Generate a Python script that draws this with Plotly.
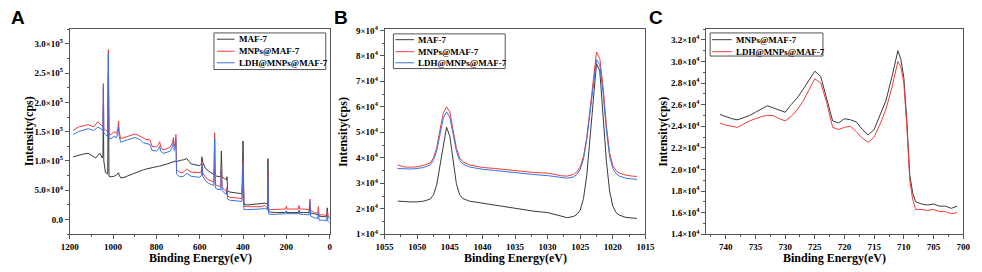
import plotly.graph_objects as go

# ---------------- Panel A: survey spectra (intensity in units of 1e5 cps) ----------------
energy_A = [1185, 1160, 1135, 1115, 1090, 1080, 1070, 1060, 1050, 1047,
            1045, 1043, 1035, 1025, 1022, 1019, 1010, 995, 985, 978,
            975, 972, 965, 950, 930, 900, 890, 875, 860, 850,
            830, 820, 800, 790, 785, 780, 770, 750, 735, 725,
            721, 718, 712, 710, 707, 700, 690, 675, 660, 640,
            620, 600, 593, 590, 586, 575, 560, 545, 535, 531,
            528, 520, 510, 503, 500, 497, 485, 477, 474, 471,
            460, 440, 420, 405, 400, 396, 380, 350, 320, 300,
            290, 287, 285, 282, 275, 250, 210, 203, 200, 197,
            170, 145, 141, 138, 120, 95, 91, 88, 70, 55,
            52, 49, 30, 15, 11, 8, 3, 0]
maf7_A = [1.07, 1.10, 1.12, 1.13, 1.07, 1.05, 1.10, 1.13, 1.05, 1.10,
          1.90, 1.00, 0.80, 0.78, 2.50, 0.74, 0.73, 0.74, 0.76, 0.78,
          0.80, 0.76, 0.71, 0.72, 0.75, 0.80, 0.81, 0.83, 0.85, 0.86,
          0.88, 0.89, 0.90, 0.91, 0.91, 0.92, 0.93, 0.95, 0.97, 0.98,
          0.99, 0.99, 0.99, 1.00, 0.99, 1.00, 1.01, 1.02, 1.04, 0.95,
          0.93, 0.92, 0.95, 1.07, 0.98, 0.88, 0.83, 0.80, 0.77, 0.85,
          0.75, 0.74, 0.73, 0.73, 1.17, 0.72, 0.70, 0.68, 0.73, 0.48,
          0.47, 0.46, 0.45, 0.44, 1.34, 0.26, 0.25, 0.26, 0.27, 0.28,
          0.27, 0.25, 1.04, 0.14, 0.13, 0.12, 0.12, 0.12, 0.15, 0.12,
          0.12, 0.12, 0.16, 0.12, 0.12, 0.12, 0.25, 0.11, 0.10, 0.08,
          0.10, 0.06, 0.05, 0.05, 0.20, 0.05, 0.03, 0.02]
mnps_A = [1.52, 1.58, 1.60, 1.62, 1.58, 1.63, 1.67, 1.63, 1.60, 1.58,
          2.32, 1.55, 1.53, 1.50, 2.90, 1.45, 1.45, 1.50, 1.47, 1.55,
          1.68, 1.50, 1.38, 1.40, 1.42, 1.46, 1.45, 1.42, 1.38, 1.37,
          1.36, 1.25, 1.24, 1.28, 1.33, 1.24, 1.19, 1.21, 1.24, 1.32,
          1.40, 1.25, 1.30, 1.45, 0.85, 0.83, 0.80, 0.81, 0.86, 0.81,
          0.80, 0.80, 0.82, 1.00, 0.80, 0.73, 0.68, 0.66, 0.64, 1.48,
          0.60, 0.58, 0.57, 0.57, 0.90, 0.56, 0.50, 0.48, 0.55, 0.40,
          0.38, 0.37, 0.37, 0.36, 1.00, 0.23, 0.22, 0.22, 0.22, 0.24,
          0.22, 0.20, 0.80, 0.18, 0.17, 0.17, 0.18, 0.18, 0.23, 0.18,
          0.18, 0.18, 0.24, 0.18, 0.18, 0.17, 0.35, 0.16, 0.12, 0.11,
          0.22, 0.08, 0.08, 0.07, 0.15, 0.07, 0.05, 0.05]
ldh_A = [1.45, 1.50, 1.53, 1.55, 1.52, 1.55, 1.58, 1.56, 1.53, 1.52,
         2.27, 1.48, 1.45, 1.42, 2.83, 1.38, 1.38, 1.42, 1.40, 1.48,
         1.58, 1.42, 1.32, 1.34, 1.36, 1.40, 1.39, 1.36, 1.31, 1.30,
         1.28, 1.18, 1.17, 1.20, 1.25, 1.17, 1.13, 1.15, 1.17, 1.25,
         1.35, 1.18, 1.24, 1.37, 0.78, 0.75, 0.73, 0.74, 0.79, 0.74,
         0.73, 0.72, 0.75, 0.95, 0.74, 0.67, 0.62, 0.60, 0.58, 1.38,
         0.54, 0.52, 0.51, 0.51, 0.85, 0.50, 0.45, 0.43, 0.50, 0.35,
         0.33, 0.32, 0.32, 0.31, 0.95, 0.17, 0.17, 0.17, 0.18, 0.19,
         0.18, 0.16, 0.75, 0.10, 0.09, 0.09, 0.10, 0.10, 0.14, 0.10,
         0.10, 0.10, 0.15, 0.09, 0.09, 0.08, 0.30, 0.06, 0.03, 0.02,
         0.12, -0.01, -0.01, -0.02, 0.08, -0.03, -0.05, -0.06]

# ---------------- Panel B: Zn 2p (intensity in units of 1e4 cps) ----------------
energy_B = [1053, 1052, 1051, 1050, 1049, 1048, 1047.5, 1047, 1046.5, 1046,
            1045.5, 1045, 1044.5, 1044, 1043.5, 1043, 1042, 1040, 1038, 1036,
            1034, 1032, 1030, 1029, 1028, 1027, 1026, 1025.5, 1025, 1024.5,
            1024, 1023.5, 1023, 1022.5, 1022, 1021.5, 1021, 1020.5, 1020, 1019.5,
            1019, 1018, 1017, 1016.3]
maf7_B = [2.30, 2.28, 2.27, 2.27, 2.30, 2.38, 2.55, 2.95, 3.70, 4.60,
          5.20, 4.85, 3.90, 3.00, 2.55, 2.40, 2.30, 2.22, 2.12, 2.05,
          1.98, 1.90, 1.85, 1.78, 1.70, 1.65, 1.70, 1.78, 1.95, 2.40,
          3.30, 4.70, 6.40, 7.70, 7.40, 5.80, 3.90, 2.70, 2.10, 1.85,
          1.75, 1.66, 1.62, 1.62]
mnps_B = [3.72, 3.64, 3.63, 3.65, 3.70, 3.80, 4.00, 4.40, 5.10, 5.75,
          6.00, 5.80, 5.10, 4.40, 4.00, 3.85, 3.72, 3.62, 3.58, 3.52,
          3.47, 3.42, 3.40, 3.35, 3.30, 3.28, 3.35, 3.45, 3.65, 4.05,
          4.80, 5.90, 7.10, 8.15, 7.90, 6.80, 5.30, 4.20, 3.70, 3.50,
          3.40, 3.32, 3.28, 3.27]
ldh_B = [3.58, 3.56, 3.56, 3.58, 3.62, 3.72, 3.90, 4.28, 4.95, 5.55,
         5.80, 5.60, 4.95, 4.28, 3.90, 3.76, 3.64, 3.55, 3.50, 3.44,
         3.38, 3.34, 3.30, 3.26, 3.22, 3.20, 3.25, 3.35, 3.55, 3.95,
         4.70, 5.80, 6.95, 7.85, 7.65, 6.55, 5.10, 4.05, 3.58, 3.38,
         3.28, 3.20, 3.17, 3.15]

# ---------------- Panel C: Fe 2p (intensity in units of 1e4 cps) ----------------
energy_C = [741, 740, 739, 738, 737, 736, 735, 734, 733, 732,
            731, 730, 729, 728, 727, 726, 725, 724, 723, 722,
            721, 720, 719, 718, 717, 716, 715, 714, 713, 712,
            711, 710.5, 710, 709.5, 709, 708.5, 708, 707, 706, 705,
            704, 703, 702, 701]
mnps_C = [2.51, 2.49, 2.47, 2.46, 2.48, 2.50, 2.53, 2.56, 2.59, 2.57,
          2.55, 2.53, 2.60, 2.66, 2.74, 2.83, 2.91, 2.86, 2.66, 2.45,
          2.43, 2.47, 2.46, 2.44, 2.37, 2.32, 2.37, 2.50, 2.64, 2.86,
          3.10, 3.02, 2.85, 2.45, 1.95, 1.78, 1.70, 1.68, 1.67, 1.68,
          1.66, 1.66, 1.64, 1.66]
ldh_C = [2.43, 2.41, 2.40, 2.39, 2.42, 2.45, 2.47, 2.49, 2.50, 2.50,
         2.47, 2.45, 2.49, 2.55, 2.63, 2.73, 2.84, 2.80, 2.62, 2.39,
         2.37, 2.39, 2.40, 2.35, 2.29, 2.25, 2.30, 2.42, 2.56, 2.76,
         3.00, 2.95, 2.80, 2.40, 1.90, 1.72, 1.63, 1.63, 1.62, 1.63,
         1.61, 1.61, 1.59, 1.60]

# ---------------- Tick values / labels ----------------
xticks_A = [1200, 1000, 800, 600, 400, 200, 0]
xticks_B = [1055, 1050, 1045, 1040, 1035, 1030, 1025, 1020, 1015]
xticks_C = [740, 735, 730, 725, 720, 715, 710, 705, 700]
yticks_A = [0, 0.5e5, 1.0e5, 1.5e5, 2.0e5, 2.5e5, 3.0e5]
ylabels_A = ["0.0", "5.0×10<sup>4</sup>", "1.0×10<sup>5</sup>", "1.5×10<sup>5</sup>",
             "2.0×10<sup>5</sup>", "2.5×10<sup>5</sup>", "3.0×10<sup>5</sup>"]
yticks_B = [1e4, 2e4, 3e4, 4e4, 5e4, 6e4, 7e4, 8e4, 9e4]
ylabels_B = ["1×10<sup>4</sup>", "2×10<sup>4</sup>", "3×10<sup>4</sup>", "4×10<sup>4</sup>",
             "5×10<sup>4</sup>", "6×10<sup>4</sup>", "7×10<sup>4</sup>", "8×10<sup>4</sup>",
             "9×10<sup>4</sup>"]
yticks_C = [1.4e4, 1.6e4, 1.8e4, 2.0e4, 2.2e4, 2.4e4, 2.6e4, 2.8e4, 3.0e4, 3.2e4]
ylabels_C = ["1.4×10<sup>4</sup>", "1.6×10<sup>4</sup>", "1.8×10<sup>4</sup>", "2.0×10<sup>4</sup>",
             "2.2×10<sup>4</sup>", "2.4×10<sup>4</sup>", "2.6×10<sup>4</sup>", "2.8×10<sup>4</sup>",
             "3.0×10<sup>4</sup>", "3.2×10<sup>4</sup>"]

names_A = ["MAF-7", "MNPs@MAF-7", "LDH@MNPs@MAF-7"]
names_C = ["MNPs@MAF-7", "LDH@MNPs@MAF-7"]

BLACK = "#3a3a3a"
RED = "#f23b3b"
BLUE = "#3a72e0"
SERIF = "Liberation Serif"
W, H = 982, 272
AX = "#555555"

fig = go.Figure()

def add(x, y, scale, name, color, xa, ya):
    fig.add_trace(go.Scatter(
        x=x, y=[v * scale for v in y], mode="lines", name=name, showlegend=False,
        line=dict(color=color, width=1), xaxis=xa, yaxis=ya))

add(energy_A, maf7_A, 1e5, names_A[0], BLACK, "x", "y")
add(energy_A, mnps_A, 1e5, names_A[1], RED, "x", "y")
add(energy_A, ldh_A, 1e5, names_A[2], BLUE, "x", "y")

add(energy_B, maf7_B, 1e4, names_A[0], BLACK, "x2", "y2")
add(energy_B, mnps_B, 1e4, names_A[1], RED, "x2", "y2")
add(energy_B, ldh_B, 1e4, names_A[2], BLUE, "x2", "y2")

add(energy_C, mnps_C, 1e4, names_C[0], BLACK, "x3", "y3")
add(energy_C, ldh_C, 1e4, names_C[1], RED, "x3", "y3")

tickfont = dict(family=SERIF, size=9, color="black")

def xax(px0, px1, rng, tv, minor_dtick, anchor):
    return dict(domain=[px0 / W, px1 / W], range=rng, anchor=anchor,
                tickmode="array", tickvals=tv, ticktext=[f"<b>{t}</b>" for t in tv],
                ticks="outside", ticklen=4, tickwidth=1, tickcolor=AX,
                minor=dict(ticks="outside", ticklen=2, dtick=minor_dtick, tick0=0, tickcolor=AX),
                showline=True, linecolor=AX, linewidth=1, mirror=True,
                showgrid=False, zeroline=False, tickfont=tickfont)

def yax(rng, tv, tt, minor_dtick, anchor):
    return dict(domain=[1 - 238 / H, 1 - 25 / H], range=rng, anchor=anchor,
                tickmode="array", tickvals=tv, ticktext=[f"<b>{t}</b>" for t in tt],
                ticks="outside", ticklen=4, tickwidth=1, tickcolor=AX,
                minor=dict(ticks="outside", ticklen=2, dtick=minor_dtick, tick0=0, tickcolor=AX),
                showline=True, linecolor=AX, linewidth=1, mirror=True,
                showgrid=False, zeroline=False, tickfont=tickfont)

fig.update_layout(
    width=W, height=H, margin=dict(l=0, r=0, t=0, b=0),
    paper_bgcolor="white", plot_bgcolor="white", showlegend=False,
    xaxis=xax(62, 327, [1200, 0], xticks_A, 100, "y"),
    yaxis=yax([-0.25e5, 3.25e5], yticks_A, ylabels_A, 0.25e5, "x"),
    xaxis2=xax(383, 649, [1055, 1015], xticks_B, 2.5, "y2"),
    yaxis2=yax([1e4, 9.05e4], yticks_B, ylabels_B, 0.5e4, "x2"),
    xaxis3=xax(711, 973, [743.3, 700], xticks_C, 2.5, "y3"),
    yaxis3=yax([1.4e4, 3.3e4], yticks_C, ylabels_C, 0.1e4, "x3"),
)

def px_x(p):
    return p / W

def px_y(p):
    return 1 - p / H

# Axis titles
titlefont = dict(family=SERIF, size=12, color="black")
for cx in [195, 516, 842]:
    fig.add_annotation(text="<b>Binding Energy(eV)</b>", x=px_x(cx), y=px_y(263),
                       xref="paper", yref="paper", showarrow=False, font=titlefont,
                       xanchor="center", yanchor="middle")
for cx in [20, 340, 667]:
    fig.add_annotation(text="<b>Intensity(cps)</b>", x=px_x(cx), y=px_y(131.5),
                       xref="paper", yref="paper", showarrow=False, font=titlefont,
                       textangle=-90, xanchor="center", yanchor="middle")

# Panel letters
for letter, cx in [("A", 9.5), ("B", 338.5), ("C", 660)]:
    fig.add_annotation(text=f"<b>{letter}</b>", x=px_x(cx), y=px_y(12.5), xref="paper", yref="paper",
                       xanchor="center", yanchor="middle", showarrow=False,
                       font=dict(family="Liberation Sans", size=19, color="black"))

# Compact legends (box, line samples, labels)
legfont = dict(family=SERIF, size=9, color="black")
def legend(x0, x1, y0, y1, line_x0, line_x1, rows, names, colors):
    fig.add_shape(type="rect", xref="paper", yref="paper",
                  x0=px_x(x0), x1=px_x(x1), y0=px_y(y1), y1=px_y(y0),
                  line=dict(color=AX, width=1), fillcolor="white", layer="above")
    for ry, nm, col in zip(rows, names, colors):
        fig.add_shape(type="line", xref="paper", yref="paper",
                      x0=px_x(line_x0), x1=px_x(line_x1), y0=px_y(ry), y1=px_y(ry),
                      line=dict(color=col, width=1), layer="above")
        fig.add_annotation(text=f"<b>{nm}</b>", x=px_x(line_x1 + 2), y=px_y(ry),
                           xref="paper", yref="paper", showarrow=False, font=legfont,
                           xanchor="left", yanchor="middle")

legend(209, 323, 29, 67, 212, 230, [35.5, 48, 60], names_A, [BLACK, RED, BLUE])
legend(392, 506, 30, 66, 394, 413, [36, 48.5, 60], names_A, [BLACK, RED, BLUE])
legend(715, 830, 29, 53, 717, 737, [36, 48.5], names_C, [BLACK, RED])

fig.write_html("out.html",
               config={"displayModeBar": False},
               post_script="document.body.style.margin='0';document.body.style.overflow='hidden';")
